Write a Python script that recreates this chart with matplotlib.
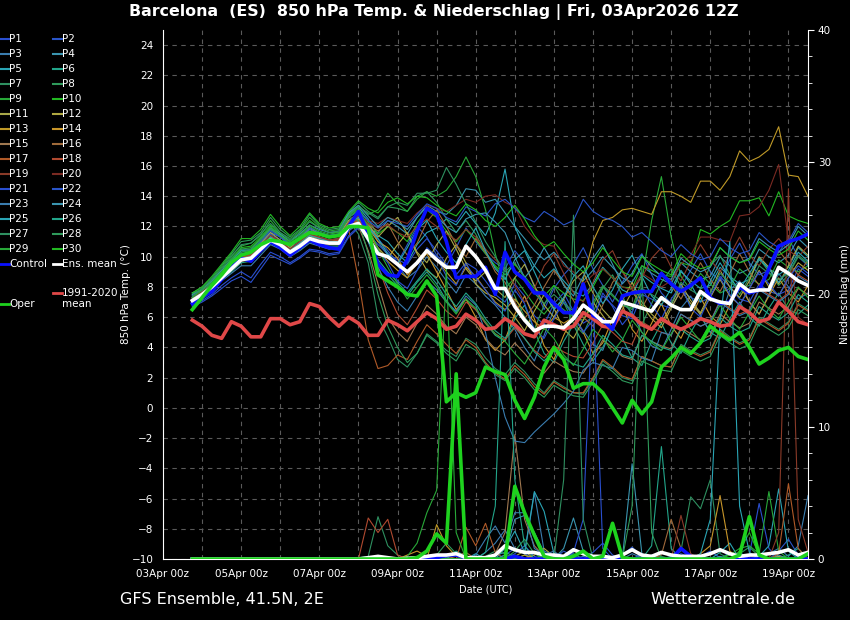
import matplotlib
matplotlib.use("Agg")
import matplotlib.pyplot as plt
import matplotlib.dates as mdates
from matplotlib.lines import Line2D
import pandas as pd

# --- ДАННЫЕ ---
times = pd.date_range("2026-04-03 18:00", periods=64, freq="6h")
x_ticks = pd.date_range("2026-04-03 00:00", "2026-04-19 00:00", freq="2D")
x_tick_labels = ["03Apr 00z", "05Apr 00z", "07Apr 00z", "09Apr 00z", "11Apr 00z",
                 "13Apr 00z", "15Apr 00z", "17Apr 00z", "19Apr 00z"]
temp_ticks = [-10, -8, -6, -4, -2, 0, 2, 4, 6, 8, 10, 12, 14, 16, 18, 20, 22, 24]
rain_ticks = [0, 10, 20, 30, 40]

# temperature 850 hPa, members
t_p01 = [6.8, 7.1, 7.5, 8.1, 8.6, 9.0, 8.6, 9.5, 10.3, 10.0, 9.6, 10.0, 10.5, 10.4, 10.2, 10.3,
         11.4, 12.0, 11.5, 10.8, 10.2, 9.8, 9.5, 10.5, 11.2, 10.4, 9.5, 8.8, 9.6, 9.2, 8.4, 7.5,
         7.0, 8.2, 7.4, 6.1, 5.5, 6.9, 7.6, 6.4, 5.6, 6.0, 7.4, 6.8, 6.1, 5.9, 7.5, 7.2,
         6.8, 6.6, 7.8, 7.3, 7.0, 7.3, 8.7, 8.0, 7.2, 7.0, 8.2, 7.7, 7.5, 7.8, 9.2, 8.7]
t_p02 = [7.3, 7.7, 8.2, 8.8, 9.4, 10.1, 10.2, 10.8, 11.5, 11.1, 10.6, 11.0, 11.6, 11.3, 11.1, 11.2,
         12.3, 12.8, 12.0, 11.2, 10.4, 9.6, 10.8, 12.0, 11.3, 10.1, 9.4, 10.6, 11.9, 11.0, 10.2, 9.6,
         9.2, 10.4, 9.6, 8.0, 6.5, 7.9, 8.8, 9.5, 10.6, 9.2, 8.1, 7.0, 8.3, 9.4, 10.2, 8.8,
         7.6, 6.9, 8.0, 9.1, 10.2, 9.0, 8.4, 9.8, 10.9, 9.6, 8.8, 9.1, 10.3, 11.2, 10.0, 9.4]
t_p03 = [7.6, 7.8, 8.2, 8.8, 9.5, 10.2, 10.1, 10.9, 11.6, 11.3, 10.7, 11.2, 11.8, 11.5, 11.3, 11.4,
         12.6, 13.1, 12.3, 11.0, 10.1, 9.4, 8.6, 9.1, 10.0, 9.3, 8.4, 7.6, 8.8, 8.2, 7.4, 6.8,
         6.0, 5.2, 4.0, 3.1, 4.8, 6.5, 7.2, 6.0, 5.1, 4.2, 3.8, 5.5, 7.0, 6.3, 5.0, 4.1,
         3.8, 5.2, 6.6, 7.4, 6.1, 5.0, 5.9, 7.8, 8.4, 7.0, 6.2, 7.5, 8.9, 8.0, 7.2, 7.6]
t_p04 = [7.2, 7.6, 8.0, 8.6, 9.1, 9.7, 9.9, 10.4, 11.0, 10.7, 10.2, 10.6, 11.1, 10.9, 10.8, 10.8,
         11.9, 12.3, 11.8, 11.6, 12.4, 12.0, 11.5, 12.6, 13.4, 13.0, 12.8, 13.4, 14.5, 14.4, 13.6, 13.8,
         12.9, 12.0, 11.2, 10.4, 9.8, 10.3, 9.6, 8.8, 8.4, 9.1, 10.0, 9.3, 8.6, 8.3, 9.4, 8.9,
         8.5, 8.2, 9.6, 9.0, 8.5, 8.7, 10.0, 9.4, 8.9, 9.2, 10.5, 10.0, 9.6, 10.1, 11.2, 10.6]
t_p05 = [7.4, 7.7, 8.3, 9.0, 9.7, 10.4, 10.4, 11.0, 11.8, 11.4, 10.8, 11.3, 11.9, 11.6, 11.4, 11.5,
         12.8, 13.3, 12.5, 11.4, 11.0, 10.2, 9.6, 10.8, 11.6, 11.9, 12.5, 12.1, 13.0, 12.2, 11.4, 12.9,
         15.8, 12.0, 10.5, 9.4, 8.6, 9.2, 8.4, 7.7, 7.4, 8.2, 9.3, 8.6, 7.8, 7.5, 8.8, 8.3,
         7.9, 7.6, 9.0, 8.4, 7.9, 8.1, 9.3, 8.7, 8.2, 8.5, 9.8, 9.2, 8.8, 9.3, 10.6, 10.0]
t_p06 = [7.0, 7.4, 7.9, 8.5, 9.0, 9.6, 9.7, 10.3, 10.9, 10.6, 10.1, 10.5, 11.0, 10.8, 10.7, 10.7,
         11.8, 12.1, 11.0, 9.6, 8.8, 8.1, 7.4, 8.3, 9.0, 8.2, 7.1, 6.3, 7.2, 6.5, 5.6, 4.8,
         4.4, 5.9, 6.8, 5.1, 3.6, 3.0, 4.4, 5.5, 4.2, 3.1, 4.0, 5.3, 4.6, 3.3, 2.8, 4.4,
         5.6, 4.3, 3.6, 5.0, 6.1, 5.0, 4.6, 5.9, 7.0, 6.0, 5.4, 6.6, 7.6, 6.5, 6.2, 6.8]
t_p07 = [7.1, 7.5, 8.1, 8.8, 9.5, 10.3, 10.4, 11.0, 11.8, 11.3, 10.8, 11.1, 11.7, 11.5, 11.4, 11.5,
         12.4, 11.5, 9.6, 6.0, 4.7, 3.2, 2.7, 3.6, 4.9, 4.4, 3.8, 3.4, 4.6, 4.2, 3.3, 2.6,
         2.2, 3.0, 2.4, 1.6, 1.0, 1.8, 1.4, 1.0, 0.9, 1.9, 3.1, 2.6, 2.0, 1.8, 3.4, 3.1,
         2.8, 2.7, 4.2, 3.8, 3.5, 3.8, 5.2, 4.7, 4.3, 4.6, 6.0, 5.6, 5.2, 5.7, 6.9, 6.5]
t_p08 = [7.6, 8.0, 8.6, 9.4, 10.2, 11.0, 11.1, 11.6, 12.6, 11.8, 11.3, 11.8, 12.8, 12.1, 11.8, 11.9,
         12.9, 13.6, 13.0, 12.6, 13.3, 13.2, 13.0, 14.0, 14.3, 13.6, 12.5, 11.6, 12.4, 11.5, 10.3, 9.3,
         8.6, 7.4, 6.0, 5.2, 6.8, 8.1, 7.0, 5.6, 4.9, 6.3, 7.9, 8.8, 7.4, 6.1, 5.5, 6.9,
         8.3, 9.2, 8.0, 6.7, 7.9, 9.4, 10.1, 8.8, 7.5, 8.6, 9.9, 9.0, 8.1, 8.8, 10.0, 9.5]
t_p09 = [7.5, 7.9, 8.5, 9.3, 10.1, 10.7, 10.9, 11.4, 12.4, 11.6, 11.2, 11.7, 12.6, 12.0, 11.7, 11.8,
         12.8, 13.4, 12.8, 13.1, 14.2, 13.5, 13.0, 13.8, 14.3, 14.0, 14.4, 15.3, 16.6, 15.3, 13.1, 10.2,
         7.9, 8.6, 7.7, 6.8, 6.2, 7.0, 6.5, 6.0, 5.8, 6.8, 8.0, 7.4, 6.8, 6.6, 8.4, 12.4,
         15.3, 11.3, 8.7, 7.8, 8.9, 8.2, 7.6, 7.9, 9.2, 8.6, 8.2, 8.5, 9.8, 9.3, 9.0, 9.4]
t_p10 = [7.3, 7.8, 8.4, 9.1, 9.9, 10.6, 10.7, 11.3, 12.1, 11.5, 11.0, 11.6, 12.4, 11.9, 11.6, 11.6,
         12.7, 13.2, 12.3, 11.5, 12.0, 11.6, 11.0, 12.2, 13.1, 12.6, 11.7, 11.0, 11.8, 11.1, 10.2, 9.4,
         8.8, 9.5, 8.7, 7.9, 7.4, 8.1, 7.6, 7.2, 7.1, 8.0, 9.2, 8.6, 8.0, 7.9, 9.4, 9.1,
         8.8, 8.7, 9.6, 9.4, 11.8, 11.5, 12.0, 12.4, 13.7, 13.7, 13.9, 12.7, 14.3, 12.7, 12.4, 12.2]
t_p11 = [7.3, 7.7, 8.2, 8.8, 9.5, 10.1, 10.2, 10.9, 11.6, 11.1, 10.6, 11.2, 11.9, 11.5, 11.3, 11.4,
         12.4, 12.9, 12.1, 11.3, 12.0, 12.6, 11.5, 10.3, 9.6, 10.8, 11.7, 10.5, 9.2, 8.4, 9.0, 7.9,
         7.3, 8.6, 9.5, 8.1, 6.8, 6.0, 7.2, 8.4, 9.0, 7.6, 6.5, 5.8, 7.1, 8.3, 7.0, 6.2,
         5.6, 6.8, 8.2, 7.1, 6.3, 7.6, 9.1, 8.0, 7.3, 8.4, 10.0, 9.3, 8.2, 9.4, 10.7, 10.1]
t_p12 = [7.0, 7.5, 8.1, 8.7, 9.3, 9.9, 10.0, 10.7, 11.3, 11.0, 10.4, 10.9, 11.5, 11.2, 11.0, 11.1,
         12.2, 12.6, 11.7, 10.6, 9.9, 10.8, 11.6, 10.2, 9.1, 8.6, 9.9, 10.8, 9.6, 8.2, 7.6, 7.3,
         6.8, 6.0, 5.1, 6.4, 7.5, 6.6, 5.2, 4.6, 5.8, 7.0, 6.1, 5.2, 6.5, 7.7, 6.8, 5.9,
         5.3, 6.6, 7.8, 6.9, 6.2, 7.3, 8.5, 7.4, 6.8, 7.9, 9.1, 8.0, 7.4, 8.6, 9.6, 9.1]
t_p13 = [7.2, 7.6, 8.1, 8.7, 9.3, 9.9, 10.1, 10.6, 11.3, 10.9, 10.4, 10.8, 11.4, 11.1, 11.0, 11.0,
         12.0, 12.4, 11.6, 10.5, 9.7, 9.1, 8.6, 9.7, 10.4, 9.8, 9.0, 8.2, 9.3, 8.7, 7.8, 7.0,
         6.5, 7.2, 6.4, 5.7, 5.2, 6.0, 5.6, 6.0, 8.5, 11.0, 12.4, 12.6, 13.1, 13.2, 13.0, 12.8,
         14.3, 14.3, 14.0, 13.6, 15.0, 15.0, 14.4, 15.3, 17.0, 16.3, 16.6, 17.1, 18.6, 15.4, 15.3, 14.0]
t_p14 = [7.1, 7.5, 8.0, 8.6, 9.2, 9.8, 9.9, 10.5, 11.4, 10.9, 10.3, 10.8, 11.6, 11.2, 10.9, 11.0,
         12.1, 12.5, 11.9, 11.0, 10.6, 9.9, 8.8, 9.5, 10.2, 9.0, 7.8, 6.5, 7.2, 6.0, 4.5, 3.8,
         4.5, 6.2, 7.4, 5.9, 4.1, 3.2, 4.8, 6.1, 5.0, 3.6, 4.3, 5.9, 6.8, 5.2, 4.4, 5.6,
         6.9, 5.4, 4.6, 6.0, 7.3, 6.1, 5.5, 6.8, 8.1, 7.0, 6.2, 7.4, 8.6, 7.6, 7.0, 8.1]
t_p15 = [7.0, 7.4, 7.9, 8.5, 9.1, 9.7, 9.8, 10.4, 11.0, 10.7, 10.2, 10.6, 11.2, 10.9, 10.8, 10.8,
         11.9, 12.0, 10.4, 8.2, 6.0, 5.0, 4.4, 5.6, 6.8, 6.2, 5.4, 4.9, 6.0, 5.5, 4.6, 3.9,
         3.5, 4.3, 3.6, 2.8, 2.3, 3.1, 2.7, 2.4, 2.3, 3.3, 4.5, 4.0, 3.4, 3.2, 4.8, 4.4,
         4.1, 3.9, 5.3, 4.9, 4.5, 4.8, 6.2, 5.7, 5.3, 5.6, 7.0, 6.6, 6.2, 6.7, 7.9, 7.5]
t_p16 = [7.3, 7.6, 8.1, 8.7, 9.4, 10.0, 10.1, 10.8, 11.4, 11.0, 10.5, 11.0, 11.6, 11.3, 11.1, 11.2,
         12.3, 12.7, 12.1, 11.7, 12.2, 11.0, 10.1, 10.9, 12.3, 13.1, 12.0, 10.8, 10.0, 11.2, 10.3, 9.0,
         8.3, 7.0, 5.9, 6.8, 8.0, 9.1, 8.2, 7.1, 6.0, 5.4, 6.8, 8.3, 9.1, 7.9, 6.6, 7.8,
         9.0, 8.1, 7.2, 8.4, 9.6, 8.5, 7.7, 8.9, 10.2, 9.0, 8.1, 9.3, 10.4, 9.6, 8.8, 9.8]
t_p17 = [7.1, 7.5, 8.0, 8.6, 9.3, 9.9, 10.0, 10.6, 11.2, 10.9, 10.4, 10.8, 11.3, 11.1, 11.0, 11.0,
         11.8, 8.5, 4.5, 2.6, 2.8, 3.5, 3.2, 4.4, 5.5, 4.9, 4.2, 3.6, 4.5, 4.0, 3.0, 2.3,
         1.9, 2.8, 2.2, 1.4, 0.9, 1.7, 1.3, 1.0, 1.0, 2.0, 3.2, 2.7, 2.1, 1.9, 3.4, 3.1,
         2.8, 2.7, 4.1, 3.7, 3.4, 3.7, 5.1, 4.6, 4.2, 4.5, 5.9, 5.5, 5.1, 5.6, 6.8, 6.4]
t_p18 = [7.2, 7.6, 8.1, 8.7, 9.4, 10.0, 10.1, 10.7, 11.3, 11.0, 10.5, 10.9, 11.5, 11.2, 11.0, 11.1,
         12.1, 12.4, 11.5, 9.4, 7.6, 6.2, 5.5, 6.6, 7.8, 7.2, 6.4, 5.9, 7.0, 6.5, 5.6, 4.9,
         4.5, 5.3, 4.6, 3.8, 3.3, 4.1, 3.7, 3.4, 3.3, 4.3, 5.5, 5.0, 4.4, 4.2, 5.7, 5.3,
         5.0, 4.8, 6.2, 5.8, 5.4, 5.7, 7.1, 6.6, 6.2, 6.5, 7.9, 7.5, 7.1, 7.6, 8.8, 8.4]
t_p19 = [7.3, 7.7, 8.2, 8.8, 9.4, 10.0, 10.2, 10.7, 11.4, 11.0, 10.5, 11.0, 11.5, 11.3, 11.1, 11.2,
         12.2, 12.7, 12.2, 11.9, 12.1, 11.6, 11.3, 12.0, 12.5, 12.0, 11.5, 11.1, 11.8, 11.3, 10.5, 9.8,
         9.2, 8.1, 7.0, 7.9, 9.4, 10.2, 8.9, 7.6, 7.0, 8.3, 9.8, 10.4, 9.0, 7.9, 8.6, 9.9,
         10.6, 9.3, 8.4, 9.7, 10.8, 9.8, 9.0, 10.1, 11.3, 10.1, 9.4, 10.5, 11.2, 10.4, 10.0, 10.7]
t_p20 = [7.0, 7.4, 8.0, 8.6, 9.2, 9.8, 9.9, 10.5, 11.1, 10.8, 10.2, 10.7, 11.2, 11.0, 10.8, 10.9,
         12.0, 12.6, 12.4, 12.2, 12.6, 12.4, 12.2, 12.9, 13.4, 13.2, 13.0, 13.4, 13.8, 13.6, 14.0, 14.1,
         13.6, 13.3, 12.0, 11.2, 10.8, 10.7, 9.4, 9.0, 8.2, 8.8, 9.2, 8.6, 8.0, 7.8, 8.9, 8.5,
         8.0, 8.4, 9.5, 10.1, 11.3, 11.3, 11.1, 11.0, 12.7, 12.8, 13.3, 14.4, 16.1, 11.0, 6.0, 5.5]
t_p21 = [6.7, 7.0, 7.4, 7.9, 8.4, 8.7, 8.3, 9.2, 10.1, 9.8, 9.5, 9.9, 10.4, 10.3, 10.1, 10.2,
         11.3, 11.9, 11.3, 10.4, 9.6, 8.4, 7.9, 9.1, 10.6, 10.0, 8.7, 8.1, 9.5, 8.6, 7.8, 6.9,
         6.4, 7.8, 6.9, 5.2, 4.6, 5.9, 7.0, 6.1, 5.0, 5.8, 7.6, 6.7, 5.5, 6.3, 7.9, 6.8,
         5.9, 7.2, 8.1, 6.6, 6.0, 7.4, 8.6, 7.5, 6.8, 7.9, 9.0, 8.2, 7.4, 8.6, 9.4, 8.9]
t_p22 = [7.4, 7.8, 8.3, 8.9, 9.6, 10.2, 10.3, 11.0, 11.7, 11.3, 10.8, 11.3, 11.9, 11.6, 11.4, 11.5,
         12.6, 13.0, 12.4, 11.9, 12.4, 12.2, 12.0, 12.8, 13.5, 13.2, 12.6, 12.3, 13.3, 13.0, 12.7, 13.5,
         13.8, 13.2, 12.6, 12.3, 13.0, 12.6, 12.1, 12.4, 13.8, 13.0, 12.6, 12.4, 12.0, 11.3, 11.6, 11.0,
         10.4, 10.0, 10.8, 10.2, 9.8, 10.0, 11.2, 10.6, 10.2, 10.4, 11.6, 11.0, 10.6, 11.0, 12.2, 11.6]
t_p23 = [7.0, 7.3, 7.8, 8.4, 8.9, 9.4, 9.4, 10.1, 10.8, 10.5, 10.0, 10.4, 10.9, 10.7, 10.5, 10.6,
         11.7, 12.2, 11.0, 9.3, 8.0, 7.0, 6.4, 7.4, 8.4, 7.8, 7.0, 6.4, 7.4, 6.8, 5.0, 2.0,
         -0.6, -2.2, -2.3, -1.6, -1.0, -0.4, 0.3, 1.1, 2.5, 3.0, 2.8, 2.6, 4.0, 3.8, 3.3, 3.1,
         5.0, 4.8, 6.2, 5.8, 5.4, 5.7, 7.0, 6.5, 6.1, 6.4, 7.8, 7.4, 7.0, 7.5, 8.7, 8.3]
t_p24 = [7.5, 7.8, 8.4, 9.1, 9.8, 10.5, 10.5, 11.2, 11.9, 11.5, 11.0, 11.5, 12.1, 11.8, 11.6, 11.7,
         12.9, 13.4, 12.7, 12.0, 12.6, 12.3, 11.8, 12.6, 13.3, 12.7, 12.0, 11.6, 12.5, 12.8, 12.9, 12.3,
         11.6, 10.0, 8.6, 9.4, 10.6, 9.5, 8.1, 7.4, 8.7, 9.9, 10.8, 9.5, 8.2, 8.9, 10.1, 9.3,
         8.7, 8.5, 9.9, 9.4, 9.0, 9.3, 10.6, 10.0, 9.6, 9.9, 11.2, 10.7, 10.3, 10.8, 12.0, 11.4]
t_p25 = [7.2, 7.6, 8.1, 8.7, 9.3, 9.9, 10.0, 10.6, 11.3, 10.9, 10.4, 10.9, 11.4, 11.2, 11.0, 11.0,
         12.1, 12.6, 11.9, 11.2, 10.2, 9.5, 10.6, 11.8, 12.4, 11.2, 10.3, 9.6, 10.8, 11.9, 10.4, 9.2,
         8.5, 9.8, 10.4, 9.0, 7.6, 6.5, 7.3, 8.7, 9.4, 8.0, 6.9, 7.8, 9.2, 10.1, 8.7, 7.4,
         6.8, 7.9, 9.1, 8.2, 7.0, 8.4, 9.6, 8.6, 7.8, 8.9, 9.9, 9.2, 8.3, 9.1, 10.3, 9.7]
t_p26 = [7.1, 7.5, 8.0, 8.6, 9.2, 9.8, 9.9, 10.5, 11.2, 10.8, 10.3, 10.7, 11.3, 11.0, 10.9, 10.9,
         12.0, 12.3, 11.1, 9.8, 9.0, 8.3, 7.6, 8.4, 9.2, 8.5, 7.5, 6.7, 7.6, 6.9, 5.9, 5.1,
         4.6, 5.4, 4.6, 3.7, 3.1, 3.8, 3.3, 2.9, 2.7, 3.6, 4.8, 4.2, 3.5, 3.3, 4.8, 4.4,
         4.0, 3.8, 5.2, 4.7, 4.3, 4.6, 6.0, 5.4, 5.0, 5.3, 6.7, 6.2, 5.8, 6.3, 7.5, 7.0]
t_p27 = [7.4, 7.9, 8.5, 9.2, 10.0, 10.8, 10.9, 11.5, 12.2, 11.6, 11.1, 11.6, 12.3, 11.9, 11.6, 11.7,
         12.7, 13.3, 12.9, 12.5, 13.3, 13.6, 13.4, 14.2, 14.2, 14.4, 15.9, 14.8, 13.5, 12.3, 11.0, 10.0,
         9.0, 9.6, 8.6, 7.6, 6.9, 7.5, 6.9, 6.4, 6.2, 7.0, 8.1, 7.5, 6.8, 6.5, 7.9, 7.5,
         7.1, 6.9, 8.3, 7.8, 7.4, 7.6, 8.9, 8.3, 7.9, 8.1, 9.4, 8.9, 8.5, 8.9, 10.1, 9.6]
t_p28 = [7.2, 7.6, 8.2, 8.9, 9.6, 10.3, 10.5, 11.1, 11.9, 11.4, 10.9, 11.3, 12.0, 11.6, 11.4, 11.5,
         12.6, 12.4, 10.2, 7.5, 5.4, 4.0, 3.0, 3.6, 4.8, 4.3, 3.6, 3.1, 4.2, 3.8, 2.9, 2.2,
         1.8, 2.6, 2.0, 1.2, 0.7, 1.5, 1.1, 0.8, 0.7, 1.7, 2.9, 2.4, 1.8, 1.6, 3.1, 2.8,
         2.5, 2.4, 3.8, 3.4, 3.1, 3.4, 4.8, 4.3, 3.9, 4.2, 5.6, 5.2, 4.8, 5.3, 6.5, 6.1]
t_p29 = [7.3, 7.8, 8.3, 9.0, 9.8, 10.5, 10.6, 11.2, 12.0, 11.4, 11.0, 11.4, 12.1, 11.7, 11.5, 11.6,
         12.6, 13.1, 12.0, 10.5, 9.3, 8.2, 7.2, 8.0, 8.8, 8.0, 7.0, 6.2, 7.2, 6.6, 5.7, 4.9,
         4.4, 3.6, 2.9, 4.0, 5.3, 4.6, 3.5, 2.8, 3.9, 5.2, 4.6, 3.7, 4.5, 5.8, 5.0, 4.3,
         3.8, 4.9, 6.0, 5.2, 4.4, 5.6, 6.8, 5.9, 5.2, 6.3, 7.4, 6.5, 5.9, 7.0, 8.0, 7.3]
t_p30 = [7.6, 8.0, 8.7, 9.5, 10.3, 11.2, 11.2, 11.8, 12.8, 12.0, 11.4, 12.0, 12.9, 12.2, 11.9, 12.0,
         13.0, 13.7, 13.2, 12.9, 13.6, 13.9, 13.5, 14.0, 13.9, 13.4, 13.0, 12.7, 13.5, 13.1, 12.4, 12.0,
         12.6, 13.4, 12.5, 11.4, 10.6, 11.0, 10.2, 9.5, 9.0, 9.6, 10.6, 9.8, 9.0, 8.7, 10.0, 9.5,
         9.1, 8.8, 10.2, 9.6, 9.2, 9.4, 10.6, 10.0, 9.6, 9.8, 11.0, 10.5, 10.1, 10.5, 11.7, 11.1]

# precipitation (mm / 6h), members; first 16 steps are dry
r_p01 = [0] * 16 + [0, 0, 0, 0, 0, 0, 0, 0, 0, 0, 0.2, 0.5, 0.1, 0, 0, 0,
                    0.3, 0.8, 0.4, 0, 0, 0.2, 0, 0, 0, 0.5, 1.2, 0.3, 0, 0, 0.4, 0,
                    0, 0, 0, 0, 0.2, 0.6, 0.1, 0, 0, 0.3, 4.2, 0.8, 0, 0, 0.2, 0.4]
r_p02 = [0] * 16 + [0, 0, 0, 0, 0, 0, 0, 0, 0, 0.3, 0.1, 0, 0, 0, 0, 0,
                    0, 0.4, 1.0, 0.2, 0, 0, 0.6, 0.2, 0, 0, 0, 0, 0.3, 0.9, 0.2, 0,
                    0, 0, 0.4, 0.1, 0, 0, 0, 0.5, 0.2, 0, 0, 0, 0.6, 1.5, 0.3, 0]
r_p03 = [0] * 16 + [0, 0, 0, 0, 0, 0, 0, 0, 0, 0, 0, 0, 0, 0, 0.5, 1.2,
                    2.2, 0.8, 0.4, 5.0, 0.6, 0.3, 0, 0, 0.2, 0, 0, 0, 0, 0.4, 0.1, 0,
                    0, 0.2, 0, 0, 0, 0, 0, 0, 0.5, 0, 0, 0.4, 0.8, 0.2, 1.0, 4.8]
r_p04 = [0] * 16 + [0, 0, 0, 0, 0, 0, 0, 0, 0, 0, 0, 0, 0, 0, 0, 0.3,
                    0.5, 0.2, 0, 0, 0.3, 0, 0.8, 3.1, 0.6, 0, 0, 0, 0, 7.2, 0.4, 0,
                    0, 0, 0, 0.3, 0, 0, 0.2, 0, 0, 0, 0, 0, 0.3, 0, 0, 0]
r_p05 = [0] * 16 + [0, 0, 0, 0, 0, 0, 0, 0, 0, 0, 0, 0, 0, 0.4, 0, 0,
                    0.8, 2.1, 0.5, 5.1, 3.6, 0.4, 0.2, 0, 0, 0, 0, 0, 0, 0, 0, 0.3,
                    0, 0, 0, 0, 0, 0, 0.5, 1.2, 0, 0, 0.2, 1.0, 5.3, 0.6, 0, 0]
r_p06 = [0] * 16 + [0, 0, 0, 0, 0, 0, 0, 0, 0, 0, 0, 0.6, 0.2, 0, 0, 0,
                    0, 0, 0.3, 0, 0, 0, 0, 0.4, 0, 0, 0, 0, 0, 0, 0, 1.0,
                    8.5, 0.8, 0, 0, 0, 0, 0, 0, 0, 0, 0, 0, 0, 0.3, 0.8, 0]
r_p07 = [0] * 16 + [0, 0.1, 0.2, 3.2, 1.0, 0.3, 0, 0, 0, 0, 0, 0, 0, 0, 0.2, 0.6,
                    0.4, 0, 0, 0, 0, 0, 0.2, 0.8, 0.3, 0, 0, 0, 0, 0, 0, 0,
                    0.2, 0, 0.6, 4.7, 3.8, 6.0, 0.4, 0, 0, 0, 0, 0, 0, 0, 0, 0]
r_p08 = [0] * 16 + [0, 0, 0, 0, 0, 0, 0, 0, 0, 0.3, 1.2, 0.4, 0, 0, 0, 0,
                    0, 0.6, 1.5, 0.4, 0, 0, 0, 0, 0, 0, 0.2, 0, 0, 0, 0, 0,
                    0, 0, 0, 0, 0, 0, 0, 0, 0.4, 0.9, 0.2, 0, 0, 0, 0, 0]
r_p09 = [0] * 16 + [0, 0, 0, 0, 0, 0, 0, 0, 0, 0, 0, 0, 0, 0, 0, 0,
                    0, 0.3, 0, 0, 0, 0, 0, 0, 0, 0.2, 0, 0, 0, 0, 0, 0,
                    0, 0, 0, 0, 0, 0, 0, 0.3, 0.8, 1.0, 0.4, 5.1, 0.6, 0, 0, 0]
r_p10 = [0] * 16 + [0, 0, 0, 0, 0, 0, 0, 0, 0, 0, 0, 0, 0, 0, 0, 0,
                    0, 0, 0, 0, 0.4, 0.2, 0, 0, 0, 0, 0, 0, 0, 0, 0, 0,
                    0, 0, 0, 0, 0, 0, 0, 0, 0.6, 2.0, 0.3, 0, 0, 0, 0, 0]
r_p11 = [0] * 16 + [0, 0, 0, 0, 0, 0, 0, 0, 0, 0, 0, 0, 0, 0, 0, 0,
                    0, 0.2, 0.6, 0, 0, 0.3, 0, 0, 0, 0, 0, 0, 0, 0, 0, 0,
                    0, 0, 0, 0, 0, 0, 0, 0, 0, 0, 0, 0, 0.2, 0, 0, 0]
r_p12 = [0] * 16 + [0, 0, 0, 0, 0, 0, 0, 0, 0, 0, 0, 0, 0, 0, 0, 0,
                    0, 0, 0, 0.3, 0.8, 0.2, 0, 0, 0, 0, 0, 0, 0, 0, 0, 0,
                    0, 0, 0, 0, 0, 0, 0, 0, 0, 0, 0, 0, 0, 0, 0, 0]
r_p13 = [0] * 16 + [0, 0, 0, 0, 0, 0, 0, 0, 0, 2.6, 1.0, 0.2, 0, 0, 0, 0,
                    0, 0, 0.3, 0, 0, 0, 0, 0, 0, 0, 0, 0, 0, 0, 0, 0,
                    0, 0, 0, 0, 0, 0, 0, 0, 0, 0, 0, 0, 0, 0, 0, 0]
r_p14 = [0] * 16 + [0, 0, 0, 0, 0, 0, 0.3, 0.6, 0.2, 0, 0, 0, 0, 0, 0, 0,
                    0, 0, 0, 0, 0, 0, 0, 0, 0, 0, 0, 0, 0, 0, 0, 0,
                    0, 0, 0, 0, 0.4, 1.0, 4.8, 0.6, 0, 0, 0, 0, 0, 0, 0, 0]
r_p15 = [0] * 16 + [0, 0, 0, 0, 0, 0, 0, 0, 0, 0, 0, 0, 0, 0, 0, 0.4,
                    2.0, 9.4, 3.0, 1.0, 0.2, 0, 0, 0, 0, 0, 0, 0, 0, 0, 0, 0,
                    0, 0, 0, 0, 0, 0, 0, 0, 0, 0, 0, 0, 0, 0, 0, 0]
r_p16 = [0] * 16 + [0, 0, 0, 0, 0, 0, 0, 0, 0, 0, 0, 0.2, 0.5, 0, 0, 0,
                    0, 0, 0, 0, 0, 0, 0, 0, 0, 0, 0, 0, 0, 0, 0, 0,
                    0.3, 3.0, 0.8, 0, 0, 0, 0, 0, 0, 0, 0, 0, 0, 0, 0, 0]
r_p17 = [0] * 16 + [0, 0, 0, 0, 0, 0, 0, 0, 0, 0, 0, 0, 2.4, 1.0, 2.7, 0.5,
                    0, 0, 0, 0, 0, 0, 0, 0, 0, 0, 0, 0, 0, 0, 0, 0,
                    0, 0, 0, 0, 0, 0, 0, 0, 0, 0, 0, 0, 0.4, 5.7, 0.8, 0]
r_p18 = [0] * 16 + [0, 0, 3.1, 2.0, 3.0, 0.3, 0, 0, 0, 0, 0, 0, 0, 0, 0, 0,
                    0, 0, 0, 0, 0, 0, 0, 0, 0, 0, 0, 0, 0, 0, 0, 0,
                    0, 0, 0, 0, 0, 0, 0, 0, 0, 0, 0, 0, 0, 0, 0, 0]
r_p19 = [0] * 16 + [0, 0, 0, 0, 0, 0, 0, 0, 0, 0, 0, 0, 0, 0, 0, 0,
                    0, 0, 0, 0, 0, 0, 0, 0, 0, 0, 0, 0, 0, 0, 0, 0,
                    0, 0, 3.3, 0.4, 0, 0, 0, 0, 0, 0, 0, 0, 2.0, 28.0, 3.0, 0.5]
r_p20 = [0] * 64
r_p21 = [0] * 16 + [0, 0, 0, 0, 0, 0, 0, 0, 0, 0, 0, 0, 0, 0, 0, 0,
                    0, 0, 0, 0, 0, 0, 0, 0.5, 3.0, 20.0, 0.8, 0, 0, 0, 0, 0,
                    0, 0, 0, 0, 0, 0, 0, 0, 0, 0, 0, 0, 0, 0, 0, 0]
r_p22 = [0] * 64
r_p23 = [0] * 16 + [0, 0, 0, 0, 0, 0, 0, 0, 0, 0, 0, 0, 0, 0.3, 1.5, 2.5,
                    1.2, 3.5, 3.5, 0.8, 0.3, 0.6, 0, 0, 0, 0, 0, 0, 0, 0, 0, 0,
                    0, 0, 0, 0, 0, 0, 0, 0, 0, 0, 0, 0, 0, 0, 0, 0]
r_p24 = [0] * 16 + [0, 0, 0, 0, 0, 0, 0, 0, 0, 0, 0, 0, 0, 0, 0, 0,
                    0.3, 3.0, 3.3, 2.0, 0.5, 0, 0, 0, 0, 0, 0, 0, 0, 0, 0, 0,
                    0, 0, 0, 0, 0, 0, 0, 0, 0, 0, 0, 0, 0, 0, 0, 0]
r_p25 = [0] * 16 + [0, 0, 0, 0, 0, 0, 0, 0, 0, 0, 0, 0, 0, 0, 0, 0,
                    0, 0, 0, 0, 0, 0, 0, 0, 0, 0, 0, 0, 0, 0, 0, 0,
                    0, 0, 0, 0, 0.4, 3.0, 18.0, 24.0, 4.0, 0.5, 0, 0, 0, 0, 0, 0]
r_p26 = [0] * 16 + [0, 0, 0, 0, 0, 0, 0, 0, 0, 0, 0, 0, 0, 0, 0.5, 4.0,
                    24.0, 6.0, 1.0, 0, 0, 0, 0, 0, 0, 0, 0, 0, 0, 0, 0, 0,
                    0, 0, 0, 0, 0, 0, 0, 0, 0, 0, 0, 0, 0, 0, 0, 0]
r_p27 = [0] * 16 + [0, 0, 0, 0, 0, 0, 0, 0, 0, 0, 0, 0, 0, 0, 0, 0,
                    0, 0, 0, 0, 0, 0, 6.0, 26.0, 3.0, 0, 0, 0, 0, 0, 0, 0,
                    0, 0, 0, 0, 0, 0, 0, 0, 0, 0, 0, 0, 0, 0, 0, 0]
r_p28 = [0] * 16 + [0, 0, 0, 0, 0, 0, 0, 0, 0, 0, 0, 0, 0, 0, 0, 0,
                    0, 0, 0, 0, 0, 0, 0, 0, 0, 0, 0, 0, 0, 4.0, 22.0, 2.0,
                    0, 0, 0, 0, 0, 0, 0, 0, 0, 0, 0, 0, 0, 0, 0, 0]
r_p29 = [0] * 16 + [0, 0, 0, 0, 0, 0, 0.2, 1.2, 3.5, 5.2, 22.0, 2.0, 0, 0, 0, 0,
                    0, 0, 0, 0, 0, 0, 0, 0, 0, 0, 0, 0, 0, 0, 0, 0,
                    0, 0, 0, 0, 0, 0, 0, 0, 0, 0, 0, 0, 0, 0, 0, 0]
r_p30 = [0] * 16 + [0, 0, 0, 0, 0, 0, 0, 0, 0, 0, 0, 0, 0, 0, 0, 0,
                    0, 0, 0, 0, 0, 0, 0, 0, 0, 0, 0, 0, 0, 0, 0, 0,
                    0, 0, 0, 0, 0, 0, 0, 0.4, 0, 0, 0, 0, 0, 0, 0, 0]

# control, ensemble mean, operational run, climatology
t_control = [6.9, 7.3, 7.7, 8.5, 9.3, 9.9, 9.7, 10.4, 11.0, 10.6, 10.1, 10.6, 11.1, 10.8, 10.6, 10.5,
             12.0, 13.0, 11.5, 9.5, 8.8, 8.7, 9.8, 11.7, 13.2, 12.8, 11.0, 8.6, 8.7, 8.7, 9.3, 7.5,
             10.3, 9.0, 8.5, 7.6, 7.6, 6.9, 6.3, 6.3, 8.2, 6.1, 5.8, 5.2, 7.4, 7.6, 7.7, 7.7,
             8.9, 8.2, 7.7, 8.1, 8.6, 7.3, 6.9, 7.0, 8.0, 7.6, 7.8, 9.2, 10.7, 11.0, 11.2, 11.5]
t_mean = [7.1, 7.5, 8.0, 8.6, 9.2, 9.8, 9.9, 10.5, 11.1, 10.8, 10.3, 10.7, 11.2, 11.0, 10.9, 10.9,
          12.0, 12.2, 11.2, 10.2, 10.0, 9.5, 9.0, 9.6, 10.4, 9.8, 9.3, 9.3, 10.7, 10.0, 9.1, 7.9,
          7.9, 6.7, 5.8, 5.1, 5.4, 5.4, 5.3, 5.9, 6.8, 6.3, 5.7, 5.7, 7.0, 6.8, 6.6, 6.4,
          7.3, 6.8, 6.5, 6.5, 7.7, 7.2, 7.0, 6.9, 8.2, 7.7, 7.8, 7.8, 9.3, 8.9, 8.4, 8.1]
t_oper = [6.5, 7.3, 8.1, 8.8, 9.6, 10.1, 10.3, 10.8, 11.1, 11.0, 10.8, 11.2, 11.6, 11.5, 11.3, 11.4,
          12.0, 12.0, 11.9, 8.8, 8.4, 8.0, 7.5, 7.4, 8.4, 7.4, 0.4, 1.0, 0.7, 1.0, 2.7, 2.4,
          2.2, 0.5, -0.7, 0.7, 2.7, 4.0, 3.2, 1.3, 1.6, 1.6, 1.0, 0.0, -1.0, 0.5, -0.4, 0.4,
          2.7, 3.3, 4.0, 3.6, 4.3, 5.4, 4.9, 4.5, 5.0, 4.0, 2.9, 3.3, 3.8, 4.0, 3.4, 3.2]
t_clim = [5.8, 5.4, 4.8, 4.6, 5.7, 5.4, 4.7, 4.7, 5.9, 5.9, 5.5, 5.7, 6.9, 6.7, 6.0, 5.4,
          6.0, 5.6, 4.8, 4.8, 5.8, 5.5, 5.1, 5.7, 6.3, 5.9, 5.2, 5.4, 6.2, 5.8, 5.2, 5.3,
          5.9, 5.5, 4.9, 4.7, 5.8, 5.5, 5.2, 5.4, 6.3, 5.9, 5.4, 5.3, 6.4, 6.1, 5.5, 5.2,
          5.9, 5.5, 5.2, 5.5, 5.9, 5.7, 5.4, 5.5, 6.7, 6.3, 5.7, 5.9, 7.0, 6.4, 5.7, 5.5]

r_control = [0] * 16 + [0, 0, 0, 0, 0, 0, 0, 0, 0, 0.1, 0.3, 0.3, 0.1, 0, 0, 0,
                        0, 0.2, 0, 0, 0, 0, 0, 0, 0, 0, 0, 0, 0, 0, 0, 0,
                        0, 0, 0.8, 0.2, 0, 0, 0, 0, 0, 0, 0, 0, 0, 0, 0, 0]
r_mean = [0] * 16 + [0, 0, 0.1, 0.2, 0.1, 0, 0.05, 0.1, 0.2, 0.3, 0.3, 0.4, 0.1, 0.1, 0.1, 0.3,
                     1.0, 0.7, 0.5, 0.5, 0.3, 0.3, 0.2, 0.7, 0.4, 0.2, 0.2, 0.1, 0.3, 0.7, 0.3, 0.2,
                     0.5, 0.3, 0.2, 0.2, 0.2, 0.4, 0.7, 0.4, 0.2, 0.3, 0.3, 0.4, 0.5, 0.7, 0.3, 0.5]
r_oper = [0] * 16 + [0, 0, 0, 0, 0, 0, 0, 0.1, 0.6, 1.9, 1.2, 14.0, 0, 0, 0, 0,
                     0, 5.5, 3.5, 1.8, 0.2, 0, 0, 0.2, 0.6, 0, 0.2, 2.7, 0.1, 0, 0, 0,
                     0, 0, 0, 0, 0, 0, 0, 0, 0.3, 3.2, 0.3, 0, 0, 0, 0, 0.4]

member_temps = [t_p01, t_p02, t_p03, t_p04, t_p05, t_p06, t_p07, t_p08, t_p09, t_p10,
                t_p11, t_p12, t_p13, t_p14, t_p15, t_p16, t_p17, t_p18, t_p19, t_p20,
                t_p21, t_p22, t_p23, t_p24, t_p25, t_p26, t_p27, t_p28, t_p29, t_p30]
member_rain = [r_p01, r_p02, r_p03, r_p04, r_p05, r_p06, r_p07, r_p08, r_p09, r_p10,
               r_p11, r_p12, r_p13, r_p14, r_p15, r_p16, r_p17, r_p18, r_p19, r_p20,
               r_p21, r_p22, r_p23, r_p24, r_p25, r_p26, r_p27, r_p28, r_p29, r_p30]
member_names = ["P%d" % (k + 1) for k in range(30)]
# P21..P30 repeat the colours of P1..P10
member_colors = ["#2a4fd0", "#2a55c8", "#3a7db0", "#3a95b0", "#2aa5b5", "#22a58a",
                 "#2e9060", "#2e9a5a", "#28a838", "#22b822", "#a8a848", "#b0a840",
                 "#c09a28", "#c8962a", "#a07850", "#a06a3a", "#b05a28", "#b04a30",
                 "#8a3a28", "#7a2a22"]

bad = [member_names[k] for k in range(30)
       if len(member_temps[k]) != 64 or len(member_rain[k]) != 64]
if bad:
    raise ValueError("wrong length: %s" % bad)

# --- ГРАФИК ---
W, H = 850, 620
fig = plt.figure(figsize=(W / 100, H / 100), dpi=100, facecolor="black")
ax = fig.add_axes([163 / W, 1 - 559 / H, (808 - 163) / W, (559 - 30) / H])
ax.set_facecolor("black")
ax2 = ax.twinx()
ax2.set_ylim(0, 40)

for k in range(30):
    c = member_colors[k % 20]
    ax.plot(times, member_temps[k], color=c, lw=0.8, zorder=2)
    ax.plot(times, member_rain[k], color=c, lw=0.8, zorder=2, transform=ax2.transData)

ax.plot(times, t_clim, color="#e04848", lw=2.6, zorder=3)
ax.plot(times, t_control, color="#0a10ff", lw=2.6, zorder=4)
ax.plot(times, r_control, color="#0a10ff", lw=2.6, zorder=4, transform=ax2.transData)
ax.plot(times, t_mean, color="white", lw=2.6, zorder=5)
ax.plot(times, r_mean, color="white", lw=2.6, zorder=5, transform=ax2.transData)
ax.plot(times, t_oper, color="#1ed21e", lw=2.6, zorder=6)
ax.plot(times, r_oper, color="#1ed21e", lw=2.6, zorder=6, transform=ax2.transData)

ax.set_ylim(-10, 25)
ax.set_xlim(pd.Timestamp("2026-04-03 00:00"), pd.Timestamp("2026-04-19 12:00"))

# оси
ax.set_xticks(x_ticks)
ax.set_xticklabels(x_tick_labels)
ax.xaxis.set_minor_locator(mdates.DayLocator())
ax.set_yticks(temp_ticks)
ax.tick_params(axis="both", which="both", length=0, colors="white", labelsize=7.5)
ax.tick_params(axis="x", pad=7)
ax.tick_params(axis="y", pad=7)
ax.grid(True, which="major", color="#5a5a5a", linestyle=(0, (4, 4)), lw=0.8)
ax.grid(True, which="minor", axis="x", color="#5a5a5a", linestyle=(0, (4, 4)), lw=0.8)
ax.set_axisbelow(True)

ax2.set_yticks(rain_ticks)
ax2.set_yticks(range(0, 41, 2), minor=True)
ax2.tick_params(axis="y", which="major", length=4, colors="white", labelsize=7.5, pad=3)
ax2.tick_params(axis="y", which="minor", length=3, colors="white")

for s in ["top", "right"]:
    ax.spines[s].set_visible(False)
for s in ["top", "left", "bottom"]:
    ax2.spines[s].set_visible(False)
for s in ["left", "bottom"]:
    ax.spines[s].set_color("white")
ax2.spines["right"].set_color("white")

ax.set_xlabel("Date (UTC)", color="white", fontsize=7, labelpad=4)
ax.set_ylabel("850 hPa Temp. (°C)", color="white", fontsize=7.5)
ax.yaxis.set_label_coords((131 - 163) / 645, 0.5)
ax2.set_ylabel("Niederschlag (mm)", color="white", fontsize=7.5)
ax2.yaxis.set_label_coords((840 - 163) / 645, 0.5)

fig.text(434 / W, 1 - 12 / H, "Barcelona  (ES)  850 hPa Temp. & Niederschlag | Fri, 03Apr2026 12Z",
         color="white", fontsize=11.4, fontweight="bold", ha="center", va="center")
fig.text(120 / W, 1 - 599 / H, "GFS Ensemble, 41.5N, 2E", color="white", fontsize=11.5,
         ha="left", va="center")
fig.text(650 / W, 1 - 599 / H, "Wetterzentrale.de", color="white", fontsize=11.5,
         ha="left", va="center")

# легенда (вручную, по строкам)
def legend_item(x_px, y_px, color, label, lw=1.5):
    fig.add_artist(Line2D([x_px / W, (x_px + 9) / W], [1 - y_px / H, 1 - y_px / H],
                          color=color, lw=lw))
    fig.text((x_px + 9) / W, 1 - y_px / H, label, color="white", fontsize=7.5,
             ha="left", va="center")

for k in range(30):
    row, col = k // 2, k % 2
    legend_item(0 if col == 0 else 53, 39 + 15 * row, member_colors[k % 20], member_names[k])
legend_item(0, 264, "#0a10ff", "Control", lw=2)
legend_item(53, 264, "white", "Ens. mean", lw=2)
legend_item(0, 304, "#1ed21e", "Oper", lw=2)
legend_item(53, 293, "#e04848", "1991-2020", lw=2)
fig.text(62 / W, 1 - 304 / H, "mean", color="white", fontsize=7.5, ha="left", va="center")

fig.savefig("out.png", dpi=100, facecolor="black")
